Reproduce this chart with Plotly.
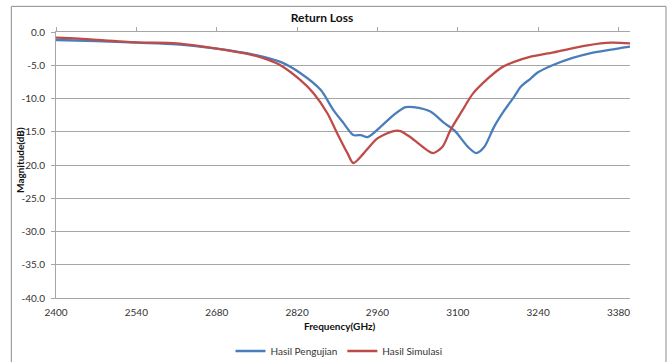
import plotly.graph_objects as go

# Measured return loss (Hasil Pengujian)
freq_uji = [2400, 2470, 2540, 2610, 2680, 2744, 2791, 2826, 2861, 2883, 2901,
            2918, 2931, 2943, 2965, 2988, 3009, 3023, 3053, 3075, 3094, 3118,
            3132, 3146, 3163, 3181, 3198, 3210, 3227, 3239, 3265, 3300, 3330,
            3384, 3400]
s11_uji = [-1.2, -1.35, -1.6, -1.85, -2.5, -3.4, -4.5, -6.2, -8.7, -11.7, -13.7,
           -15.5, -15.5, -15.8, -14.3, -12.5, -11.3, -11.3, -12.0, -13.6, -14.8, -17.3,
           -18.2, -17.3, -14.3, -11.8, -9.75, -8.2, -7.0, -6.1, -5.0, -3.9, -3.2,
           -2.4, -2.2]

# Simulated return loss (Hasil Simulasi)
freq_sim = [2400, 2440, 2540, 2610, 2680, 2744, 2770, 2791, 2826, 2849, 2873,
            2890, 2908, 2918, 2936, 2960, 2988, 3000, 3017, 3047, 3057, 3073,
            3087, 3108, 3126, 3155, 3175, 3198, 3227, 3267, 3326, 3367, 3400]
s11_sim = [-0.85, -1.0, -1.55, -1.7, -2.5, -3.5, -4.2, -5.0, -7.25, -9.25, -12.25,
           -15.25, -18.25, -19.7, -18.25, -16.0, -14.9, -14.9, -15.8, -17.8, -18.2, -17.3,
           -14.8, -11.8, -9.3, -6.8, -5.4, -4.5, -3.7, -3.05, -2.0, -1.6, -1.7]

y_ticks = [0, -5, -10, -15, -20, -25, -30, -35, -40]
y_labels = ["0.0", "-5.0", "-10.0", "-15.0", "-20.0", "-25.0", "-30.0", "-35.0", "-40.0"]
x_ticks = [2400, 2540, 2680, 2820, 2960, 3100, 3240, 3380]

FONT = "Lato"
GRID = "#a6a6a6"

fig = go.Figure()
fig.add_trace(go.Scatter(x=freq_uji, y=s11_uji, mode="lines", name="Hasil Pengujian",
                         line=dict(color="#4a7ebb", width=2.3, shape="spline", smoothing=0.8)))
fig.add_trace(go.Scatter(x=freq_sim, y=s11_sim, mode="lines", name="Hasil Simulasi",
                         line=dict(color="#be4b48", width=2.3, shape="spline", smoothing=0.8)))
# invisible trace carrying the top axis (tick marks along the 0 dB line)
fig.add_trace(go.Scatter(x=[freq_uji[0]], y=[s11_uji[0]], xaxis="x2", mode="lines",
                         showlegend=False, hoverinfo="skip", line=dict(width=0)))

fig.update_layout(
    width=671, height=362,
    margin=dict(l=56, r=41, t=32, b=64, autoexpand=False),
    paper_bgcolor="white", plot_bgcolor="white",
    font=dict(family=FONT, size=10, color="#222"),
    title=dict(text="<b>Return Loss</b>", x=322 / 671, xanchor="center",
               y=1 - 18 / 362, yanchor="middle", yref="container",
               font=dict(family=FONT, size=12, color="#111")),
    xaxis=dict(range=[2400, 3400], tickvals=x_ticks, ticks="", showgrid=False,
               showline=True, linecolor=GRID, linewidth=1, zeroline=False,
               ticklabelstandoff=5,
               tickfont=dict(size=10, color="#333")),
    xaxis2=dict(range=[2400, 3400], overlaying="x", side="top", tickvals=x_ticks,
                ticks="outside", ticklen=4, tickcolor=GRID, showticklabels=False,
                showline=True, linecolor=GRID, showgrid=False, zeroline=False),
    yaxis=dict(range=[-40, 0], tickvals=y_ticks, ticktext=y_labels,
               ticks="outside", ticklen=4, tickcolor=GRID,
               showline=True, linecolor=GRID, linewidth=1,
               showgrid=True, gridcolor=GRID, gridwidth=1, zeroline=False,
               ticklabelstandoff=4,
               tickfont=dict(size=10, color="#333")),
    legend=dict(orientation="h", x=339 / 671, xanchor="center", xref="container",
                y=1 - 351 / 362, yanchor="middle", yref="container",
                font=dict(size=10, color="#333"), itemwidth=30),
    showlegend=True,
)

fig.add_annotation(text="<b>Frequency(GHz)</b>", xref="paper", yref="paper",
                   x=0.495, y=-0.104, showarrow=False, yanchor="middle",
                   font=dict(size=10, color="#111"))
fig.add_annotation(text="<b>Magnitude(dB)</b>", xref="paper", yref="paper",
                   x=-0.064, y=0.52, showarrow=False, textangle=-90,
                   xanchor="center", yanchor="middle",
                   font=dict(size=10, color="#111"))

# outer chart frame
fig.add_shape(type="rect", xref="paper", yref="paper",
              x0=-0.0778, x1=1.0627, y0=-0.27, y1=1.0964,
              line=dict(color="#8c8c8c", width=1), layer="below")

fig.write_html("out.html")
